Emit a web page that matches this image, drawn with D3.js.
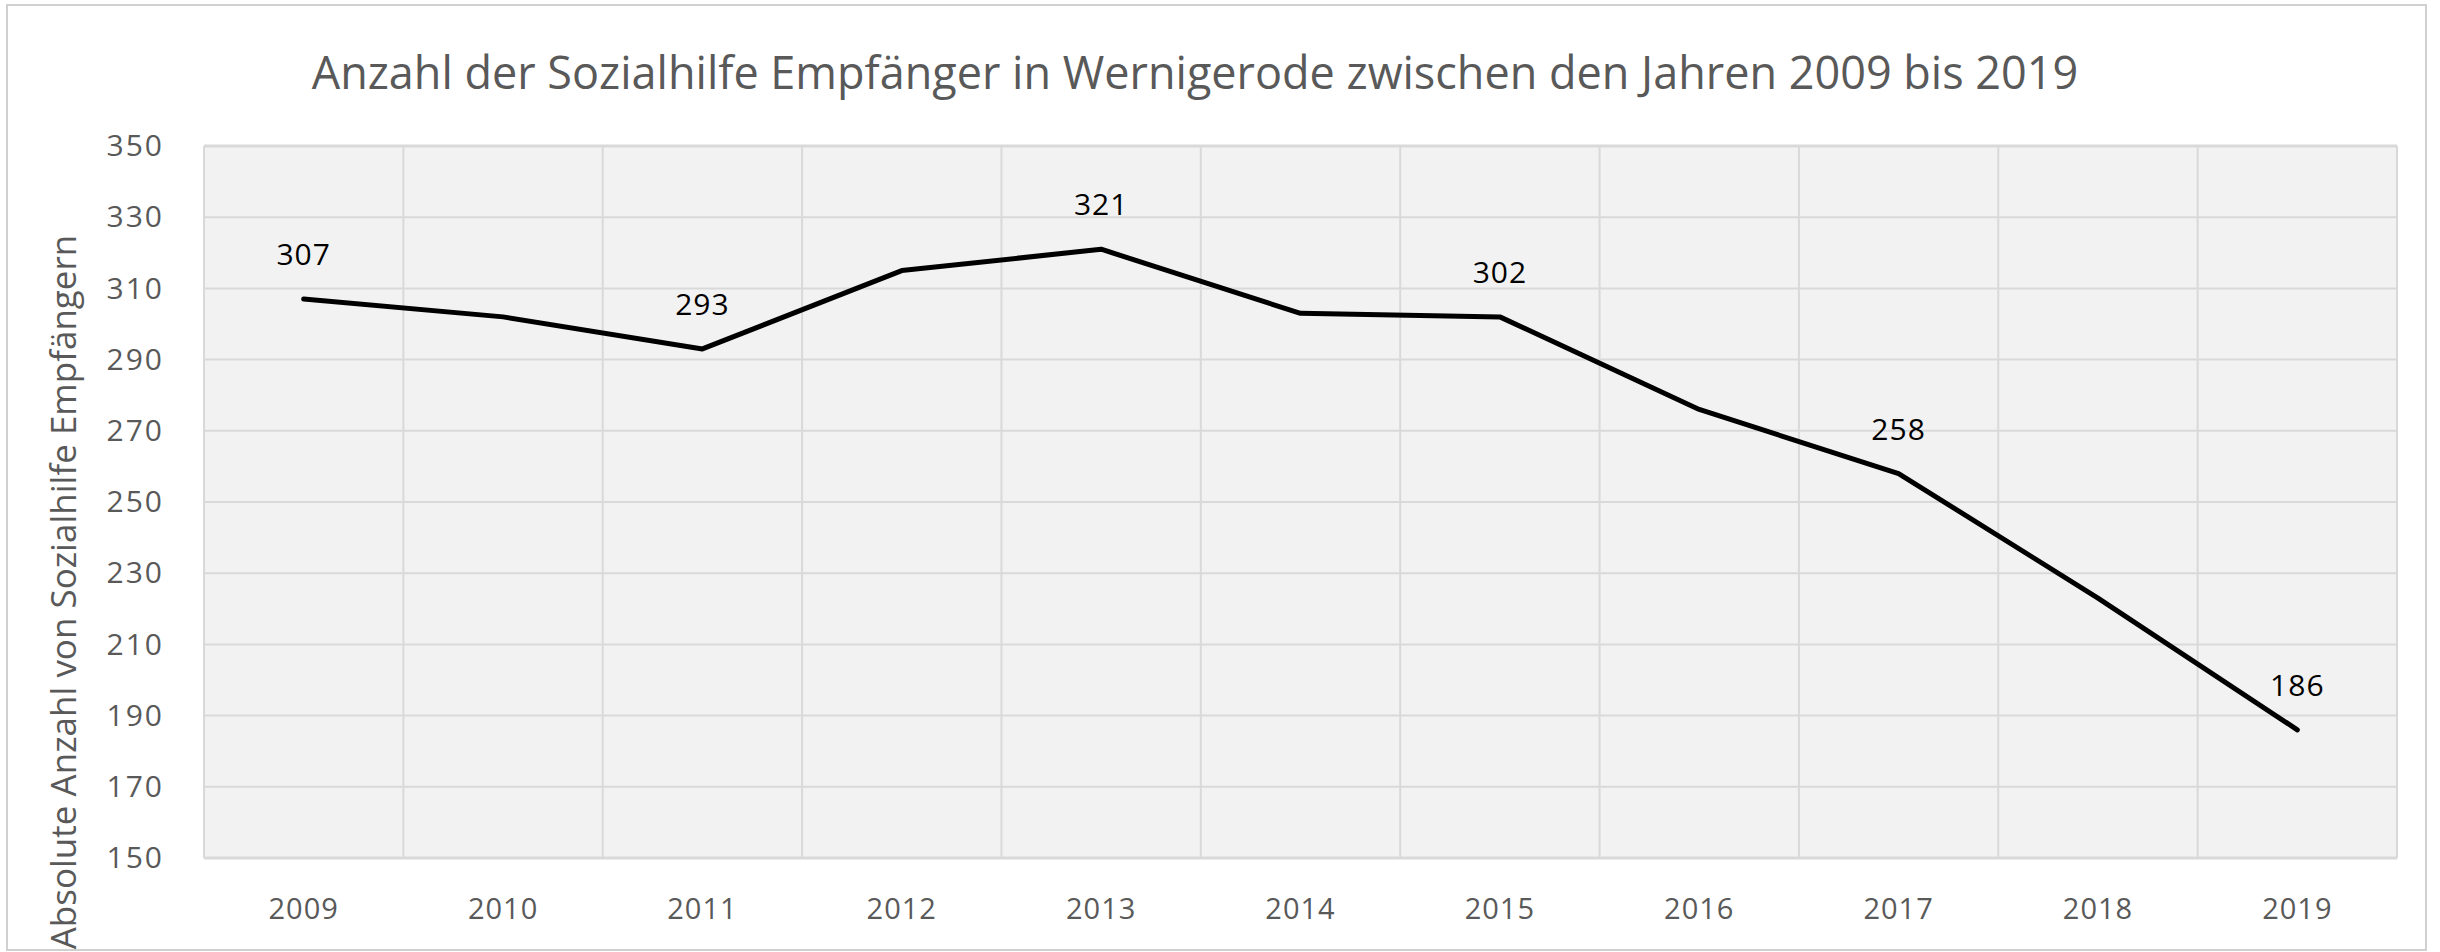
<!DOCTYPE html>
<html>
<head>
<meta charset="utf-8">
<script src="https://cdn.jsdelivr.net/npm/d3@7"></script>
<style>
  body { margin: 0; background: #fff; }
  text { font-family: "Open Sans", sans-serif; }
</style>
</head>
<body>
<svg id="canvas" width="2440" height="952"></svg>
<script>
// data
let years = ['2009', '2010', '2011', '2012', '2013', '2014', '2015', '2016', '2017', '2018', '2019'];
let counts = [307, 302, 293, 315, 321, 303, 302, 276, 258, 223, 186];
let labelledYears = ['2009', '2011', '2013', '2015', '2017', '2019'];
let yTicks = [150, 170, 190, 210, 230, 250, 270, 290, 310, 330, 350];

let titleText = 'Anzahl der Sozialhilfe Empfänger in Wernigerode zwischen den Jahren 2009 bis 2019';
let yTitleText = 'Absolute Anzahl von Sozialhilfe Empfängern';

let canvas = d3.select('#canvas');

let plot = { left: 204, right: 2397, top: 146, bottom: 858 };

// outer frame
canvas.append('rect')
    .attr('x', 7).attr('y', 5)
    .attr('width', 2419).attr('height', 945)
    .attr('fill', '#fff')
    .attr('stroke', '#d0d0d0')
    .attr('stroke-width', 2);

let xScale = d3.scaleBand()
    .domain(years)
    .range([plot.left, plot.right]);

let yScale = d3.scaleLinear()
    .domain([150, 350])
    .range([plot.bottom, plot.top]);

// plot background
canvas.append('rect')
    .attr('x', plot.left).attr('y', plot.top)
    .attr('width', plot.right - plot.left)
    .attr('height', plot.bottom - plot.top)
    .attr('fill', '#f2f2f2');

// horizontal grid
canvas.append('g')
    .selectAll('line')
    .data(yTicks)
    .enter()
    .append('line')
    .attr('x1', plot.left).attr('x2', plot.right)
    .attr('y1', (d) => yScale(d)).attr('y2', (d) => yScale(d))
    .attr('stroke', '#d9d9d9')
    .attr('stroke-width', (d) => (d === 150 || d === 350) ? 3 : 2);

// vertical grid (band edges)
canvas.append('g')
    .selectAll('line')
    .data(years.concat(['end']))
    .enter()
    .append('line')
    .attr('x1', (d) => d === 'end' ? plot.right : xScale(d))
    .attr('x2', (d) => d === 'end' ? plot.right : xScale(d))
    .attr('y1', plot.top).attr('y2', plot.bottom)
    .attr('stroke', '#d9d9d9')
    .attr('stroke-width', 2);

// y axis labels
let yAxis = d3.axisLeft(yScale)
    .tickValues(yTicks)
    .tickSize(0)
    .tickPadding(40);

let yG = canvas.append('g')
    .attr('transform', 'translate(' + (plot.left) + ',0)')
    .call(yAxis);
yG.select('.domain').remove();
yG.selectAll('text')
    .attr('fill', '#595959')
    .style('font-size', '30px')
    .style('letter-spacing', '2px');

// x axis labels
let xAxis = d3.axisBottom(xScale)
    .tickSize(0)
    .tickPadding(40);

let xG = canvas.append('g')
    .attr('transform', 'translate(0,' + plot.bottom + ')')
    .call(xAxis);
xG.select('.domain').remove();
xG.selectAll('text')
    .attr('fill', '#595959')
    .style('font-size', '29px')
    .style('letter-spacing', '1px');

// the line
let line = d3.line()
    .x((d, i) => xScale(years[i]) + xScale.bandwidth() / 2)
    .y((d) => yScale(d));

canvas.append('path')
    .datum(counts)
    .attr('d', line)
    .attr('fill', 'none')
    .attr('stroke', '#000')
    .attr('stroke-width', 5)
    .attr('stroke-linejoin', 'round')
    .attr('stroke-linecap', 'round');

// data labels
canvas.append('g')
    .selectAll('text')
    .data(years.filter((y) => labelledYears.includes(y)))
    .enter()
    .append('text')
    .attr('x', (d) => xScale(d) + xScale.bandwidth() / 2)
    .attr('y', (d) => yScale(counts[years.indexOf(d)]) - 34)
    .attr('text-anchor', 'middle')
    .attr('fill', '#000')
    .style('font-size', '30px')
    .style('letter-spacing', '1px')
    .text((d) => counts[years.indexOf(d)]);

// title
canvas.append('text')
    .attr('x', 1195)
    .attr('y', 89)
    .attr('text-anchor', 'middle')
    .attr('fill', '#595959')
    .style('font-size', '45px')
    .text(titleText);

// y axis title
canvas.append('text')
    .attr('transform', 'translate(76,592) rotate(-90)')
    .attr('text-anchor', 'middle')
    .attr('fill', '#595959')
    .style('font-size', '35px')
    .text(yTitleText);
</script>
</body>
</html>
